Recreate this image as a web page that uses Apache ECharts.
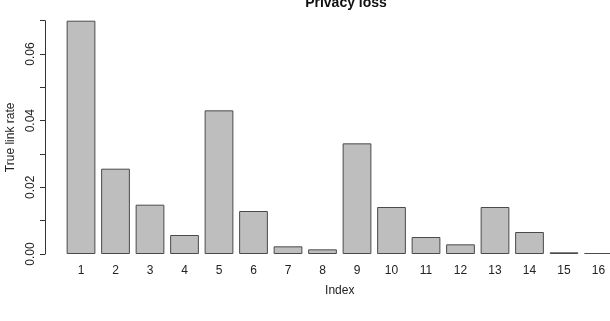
<!DOCTYPE html>
<html>
<head>
<meta charset="utf-8">
<script src="https://cdn.jsdelivr.net/npm/echarts@6/dist/echarts.min.js"></script>
<style>
  html, body { margin: 0; padding: 0; background: #fff; }
  #chart { width: 610px; height: 321px; }
</style>
</head>
<body>
<div id="chart"></div>
<script>
var chart = echarts.init(document.getElementById('chart'));

// bar labels and heights
var indexLabels = ['1','2','3','4','5','6','7','8','9','10','11','12','13','14','15','16'];
var linkRate = [0.0700, 0.0256, 0.0148, 0.0057, 0.0431, 0.0129, 0.0023, 0.0014,
                0.0332, 0.0141, 0.0051, 0.0029, 0.0141, 0.0066, 0.0005, 0.0003];

var font = 'Liberation Sans';

var option = {
    animation: false,
    title: {
        text: 'Privacy loss',
        left: 341,
        top: -9,
        textAlign: 'center',
        textStyle: { fontFamily: font, fontSize: 14, fontWeight: 'bold', color: '#111' }
    },
    grid: {
        left: 63.75,
        top: 20.7,
        width: 552,
        bottom: 67,
        outerBoundsMode: 'none'   // plot runs past the right edge, like the source
    },
    xAxis: {
        type: 'category',
        data: indexLabels,
        name: 'Index',
        nameLocation: 'middle',
        nameGap: 31,
        nameTextStyle: { fontFamily: font, fontSize: 12, color: '#222' },
        axisLine: { show: false },
        axisTick: { show: false },
        axisLabel: { fontFamily: font, fontSize: 12, color: '#222', margin: 11, interval: 0 }
    },
    yAxis: {
        type: 'value',
        min: 0,
        max: 0.07,
        interval: 0.01,
        offset: 18.75,
        name: 'True link rate',
        nameLocation: 'middle',
        nameGap: 21,
        nameTextStyle: { fontFamily: font, fontSize: 12, color: '#222' },
        splitLine: { show: false },
        axisLine: { show: true, lineStyle: { color: '#333', width: 1 } },
        axisTick: { show: true, length: 5, lineStyle: { color: '#333' } },
        axisLabel: {
            fontFamily: font, fontSize: 12, color: '#222', rotate: 90, margin: 8,
            formatter: function (v) {
                return Math.round(v * 100) % 2 === 0 ? v.toFixed(2) : '';
            }
        }
    },
    series: [{
        type: 'bar',
        data: linkRate,
        barWidth: 28.75,
        itemStyle: { color: '#bebebe', borderColor: '#4a4a4a', borderWidth: 1 }
    }]
};

chart.setOption(option);
</script>
</body>
</html>
